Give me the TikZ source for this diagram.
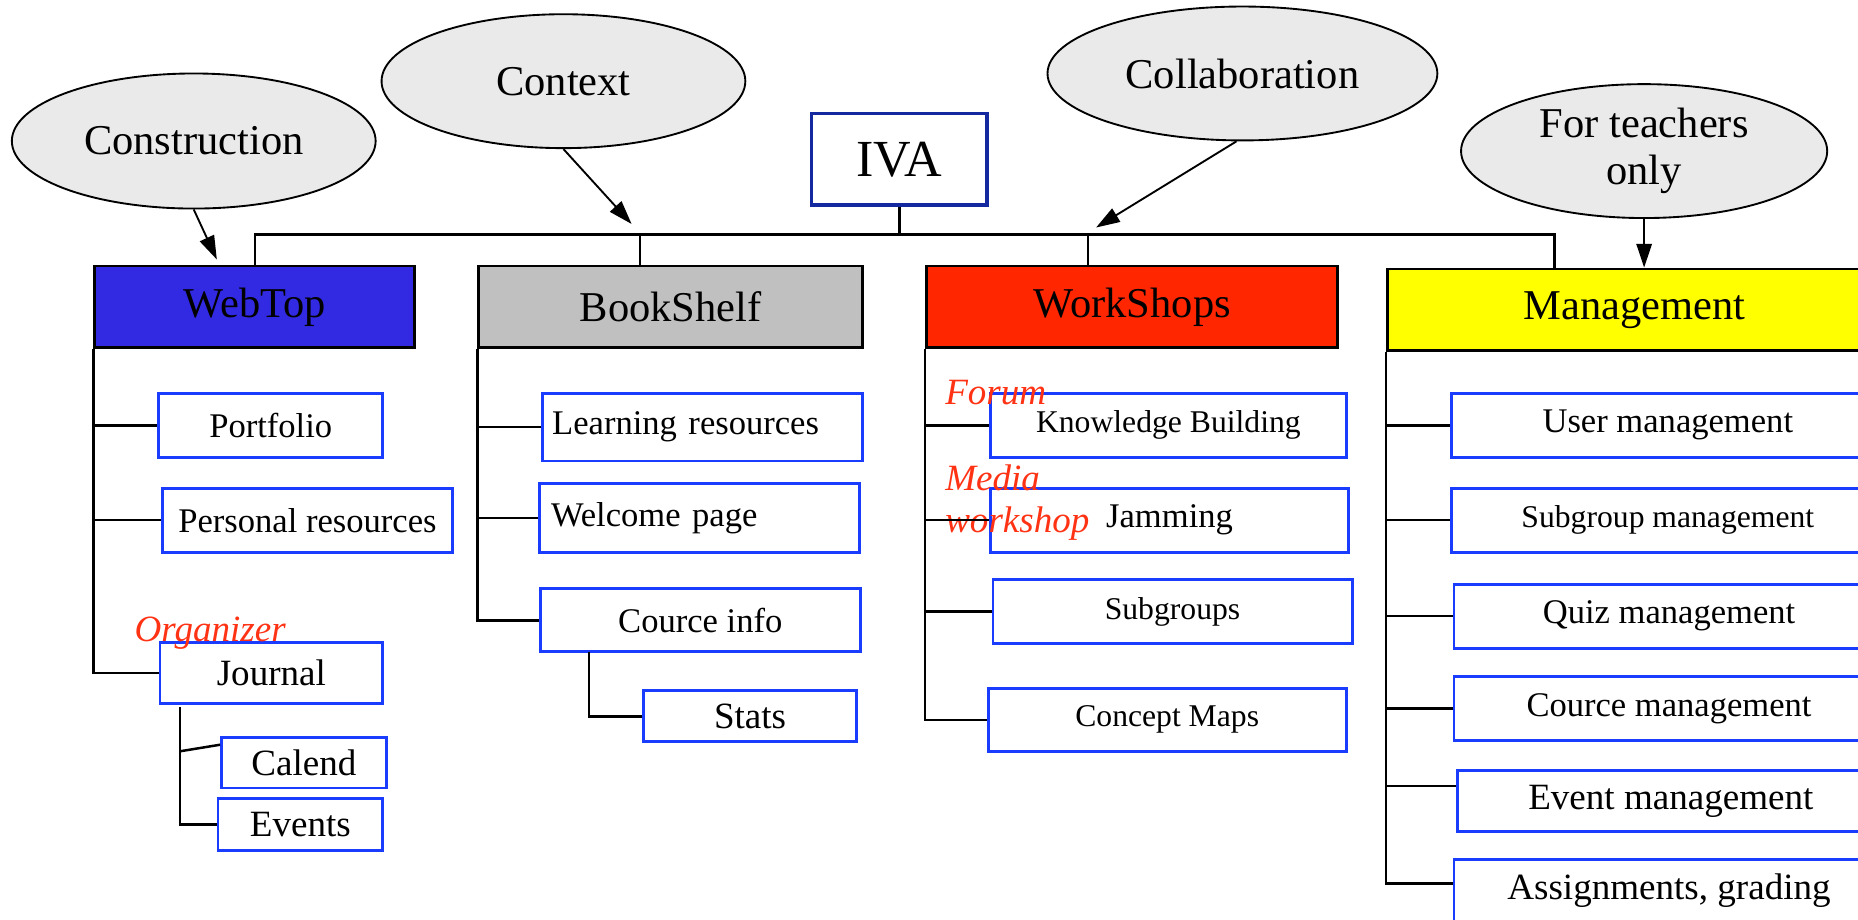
\documentclass[tikz,border=0pt]{standalone}
\usepackage{fontspec}
\setmainfont{Liberation Serif}
\usepackage{xcolor}
\usepackage{tikz}
\usetikzlibrary{arrows.meta, shapes.geometric, positioning}

\definecolor{webblue}{RGB}{50,42,226}
\definecolor{shelfgray}{RGB}{192,192,192}
\definecolor{shopred}{RGB}{255,38,0}
\definecolor{mgmtyellow}{RGB}{255,255,0}
\definecolor{itemblue}{RGB}{26,60,255}
\definecolor{ivablue}{RGB}{20,40,160}
\definecolor{bubblegray}{RGB}{234,234,234}
\definecolor{notered}{RGB}{255,50,20}

\begin{document}
\begin{tikzpicture}[
bubble/.style={ellipse, draw, fill=bubblegray, line width=0.45pt, inner sep=0, align=center, font=\fontsize{10.2}{11.4}\selectfont},
group/.style={rectangle, draw, line width=0.7pt, inner sep=0, minimum height=0.69cm, font=\fontsize{10.2}{12}\selectfont},
item/.style={rectangle, draw=itemblue, line width=0.7pt, inner sep=0, minimum height=0.54cm, font=\fontsize{8.3}{10}\selectfont},
small/.style={font=\fontsize{7.6}{9}\selectfont},
big/.style={font=\fontsize{8.9}{10}\selectfont},
note/.style={text=notered, inner sep=0, anchor=base west, font=\fontsize{8.9}{10}\selectfont\itshape},
link/.style={line width=0.6pt},
arr/.style={-{Triangle[length=2mm,width=1.3mm]}, line width=0.45pt}
]
\useasboundingbox (0,0) rectangle (15.68,-7.76);
\clip (0,0) rectangle (15.68,-7.76);

\node[bubble, minimum width=3.07cm, minimum height=1.14cm] (e1) at (1.635,-1.19) {Construction};
\node[bubble, minimum width=3.07cm, minimum height=1.13cm] (e2) at (4.755,-0.685) {Context};
\node[bubble, minimum width=3.29cm, minimum height=1.13cm] (e3) at (10.485,-0.62) {Collaboration};
\node[bubble, minimum width=3.09cm, minimum height=1.13cm] (e4) at (13.875,-1.275) {For teachers\\only};

\node[rectangle, draw=ivablue, line width=0.8pt, minimum width=1.48cm, minimum height=0.77cm, font=\fontsize{12.5}{14}\selectfont] (m0) at (7.59,-1.345) {IVA};

\node[group, fill=webblue, minimum width=2.70cm] (m1) at (2.15,-2.59) {WebTop};
\node[group, fill=shelfgray, minimum width=3.24cm] (m2) at (5.66,-2.59) {BookShelf};
\node[group, fill=shopred, minimum width=3.47cm] (m3) at (9.555,-2.59) {WorkShops};
\node[group, fill=mgmtyellow, minimum width=4.17cm] (m4) at (13.795,-2.615) {Management};

\node[item, minimum width=1.89cm] (s11) at (2.285,-3.59) {Portfolio};
\node[item, minimum width=2.45cm] (s12) at (2.595,-4.39) {Personal resources};
\node[item, big, minimum width=1.88cm, minimum height=0.52cm] (s13) at (2.29,-5.68) {Journal};
\node[item, big, minimum width=1.39cm, minimum height=0.43cm] (s14) at (2.565,-6.435) {Calend};
\node[item, big, minimum width=1.39cm, minimum height=0.44cm] (s15) at (2.535,-6.96) {Events};

\node[item, align=left, inner xsep=0.08cm, text width=2.54cm, minimum height=0.57cm] (s21) at (5.93,-3.605) {Learning resources};
\node[item, align=left, inner xsep=0.10cm, text width=2.50cm, minimum height=0.58cm] (s22) at (5.90,-4.37) {Welcome page};
\node[item, minimum width=2.70cm, minimum height=0.53cm] (s23) at (5.91,-5.235) {Cource info};
\node[item, big, minimum width=1.80cm, minimum height=0.43cm] (s24) at (6.33,-6.045) {Stats};

\node[item, small, minimum width=3.00cm] (s31) at (9.86,-3.59) {Knowledge Building};
\node[item, minimum width=3.02cm] (s32) at (9.87,-4.39) {Jamming};
\node[item, small, minimum width=3.03cm] (s33) at (9.895,-5.16) {Subgroups};
\node[item, small, minimum width=3.02cm, minimum height=0.53cm] (s34) at (9.85,-6.075) {Concept Maps};

\node[item, minimum width=3.65cm] (s41) at (14.075,-3.59) {User management};
\node[item, small, minimum width=3.65cm] (s42) at (14.075,-4.39) {Subgroup management};
\node[item, minimum width=3.63cm] (s43) at (14.085,-5.20) {Quiz management};
\node[item, minimum width=3.63cm] (s44) at (14.085,-5.98) {Cource management};
\node[item, big, minimum width=3.60cm, minimum height=0.52cm] (s45) at (14.10,-6.76) {Event management};
\node[item, big, minimum width=3.63cm] (s46) at (14.085,-7.52) {Assignments, grading};

\node[note] (t1) at (1.13,-5.41) {Organizer};
\node[note] (t2) at (7.97,-3.41) {Forum};
\node[note] (t3) at (7.97,-4.14) {Media};
\node[note] (t4) at (7.97,-4.49) {workshop};

\coordinate (b2) at (5.40,-1.98);
\coordinate (b3) at (9.18,-1.98);
\coordinate (b4) at (13.12,-1.98);
\coordinate (a1) at (1.83,-2.19);
\coordinate (a2) at (5.33,-1.89);
\coordinate (a3) at (9.25,-1.92);
\coordinate (j1) at (1.52,-5.97);
\coordinate (j2) at (1.52,-6.34);
\coordinate (c1) at (4.97,-5.50);

\draw[link] (m1.north) |- (b4) -- (b4 |- m4.north);
\draw[link] (m0.south) -- (m0.south |- b4);
\draw[link] (b2) -- (b2 |- m2.north);
\draw[link] (b3) -- (b3 |- m3.north);

\draw[arr] (e1.south) -- (a1);
\draw[arr] (e2.south) -- (a2);
\draw[arr] (e3.-95) -- (a3);
\draw[arr] (e4.south) -- (e4.south |- m4.north);

\draw[link] (m1.south west) |- (s11.west);
\draw[link] (m1.south west) |- (s12.west);
\draw[link] (m1.south west) |- (s13.west);
\draw[link] (j1) |- (s15.west);
\draw[link] (j2) -- (s14.168);

\draw[link] (m2.south west) |- (s21.west);
\draw[link] (m2.south west) |- (s22.west);
\draw[link] (m2.south west) |- (s23.west);
\draw[link] (c1) |- (s24.west);

\draw[link] (m3.south west) |- (s31.west);
\draw[link] (m3.south west) |- (s32.west);
\draw[link] (m3.south west) |- (s33.west);
\draw[link] (m3.south west) |- (s34.west);

\draw[link] (m4.south west) |- (s41.west);
\draw[link] (m4.south west) |- (s42.west);
\draw[link] (m4.south west) |- (s43.west);
\draw[link] (m4.south west) |- (s44.west);
\draw[link] (m4.south west) |- (s45.176);
\draw[link] (m4.south west) |- (s46.178);

\end{tikzpicture}
\end{document}
